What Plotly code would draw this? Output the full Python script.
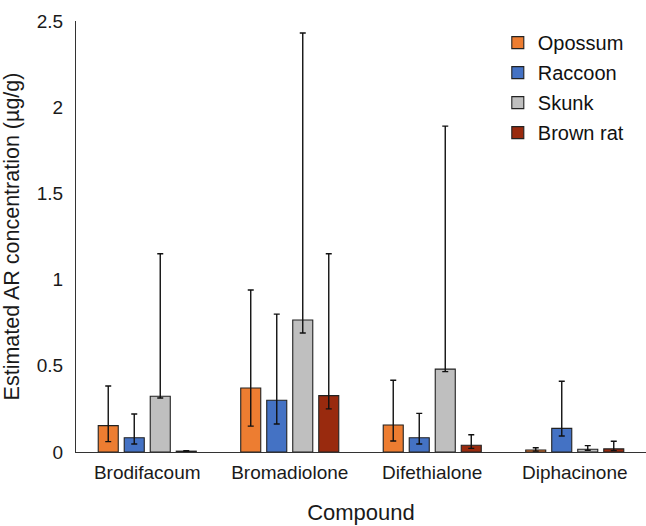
import plotly.graph_objects as go

compounds = ["Brodifacoum", "Bromadiolone", "Difethialone", "Diphacinone"]
species = ["Opossum", "Raccoon", "Skunk", "Brown rat"]
colors = ["#ED7D31", "#4472C4", "#BFBFBF", "#992A0E"]

# estimated means
opossum = [0.153, 0.371, 0.157, 0.012]
raccoon = [0.083, 0.300, 0.083, 0.137]
skunk = [0.323, 0.766, 0.481, 0.016]
brown_rat = [0.005, 0.327, 0.039, 0.018]

# upper bounds of error bars
opossum_hi = [0.383, 0.940, 0.416, 0.025]
raccoon_hi = [0.220, 0.800, 0.224, 0.410]
skunk_hi = [1.150, 2.430, 1.890, 0.037]
brown_rat_hi = [0.008, 1.150, 0.100, 0.062]

# lower bounds of error bars
opossum_lo = [0.060, 0.150, 0.064, 0.005]
raccoon_lo = [0.046, 0.162, 0.046, 0.093]
skunk_lo = [0.313, 0.690, 0.466, 0.010]
brown_rat_lo = [0.003, 0.250, 0.021, 0.008]

values = [opossum, raccoon, skunk, brown_rat]
highs = [opossum_hi, raccoon_hi, skunk_hi, brown_rat_hi]
lows = [opossum_lo, raccoon_lo, skunk_lo, brown_rat_lo]

font_family = "Liberation Sans, Arial, sans-serif"

fig = go.Figure()
for i, name in enumerate(species):
    v = values[i]
    fig.add_trace(go.Bar(
        x=compounds, y=v, name=name,
        legendgroup=name,
        marker=dict(color=colors[i], line=dict(color="#222222", width=1.1)),
        error_y=dict(
            type="data", symmetric=False,
            array=[h - m for h, m in zip(highs[i], v)],
            arrayminus=[m - l for m, l in zip(v, lows[i])],
            color="#111111", thickness=1.4, width=3,
        ),
    ))

fig.update_layout(
    width=646, height=526,
    margin=dict(l=76, r=0, t=21, b=74),
    paper_bgcolor="white", plot_bgcolor="white",
    barmode="group", bargap=0.27, bargroupgap=0.23,
    font=dict(family=font_family, color="#1a1a1a", size=19),
    legend=dict(
        x=0.74, y=0.995, xanchor="left", yanchor="top",
        font=dict(size=20, family=font_family, color="#111111"),
        tracegroupgap=1, itemwidth=30,
        bgcolor="rgba(0,0,0,0)",
    ),
    showlegend=True,
)

fig.update_xaxes(
    showline=True, linecolor="#333333", linewidth=1.2,
    showgrid=False, ticks="", tickfont=dict(size=19),
    ticklabelstandoff=3,
    title=dict(text="Compound", font=dict(size=22), standoff=22),
    range=[-0.5, 3.5],
)
fig.update_yaxes(
    range=[0, 2.5], dtick=0.5, tick0=0,
    showline=True, linecolor="#333333", linewidth=1.2,
    showgrid=False, zeroline=False, ticks="",
    ticklabelstandoff=8, tickfont=dict(size=19),
    tickformat="~g",
    title=dict(text="Estimated AR concentration (µg/g)", font=dict(size=21.5), standoff=12),
)

fig.write_html("out.html")
